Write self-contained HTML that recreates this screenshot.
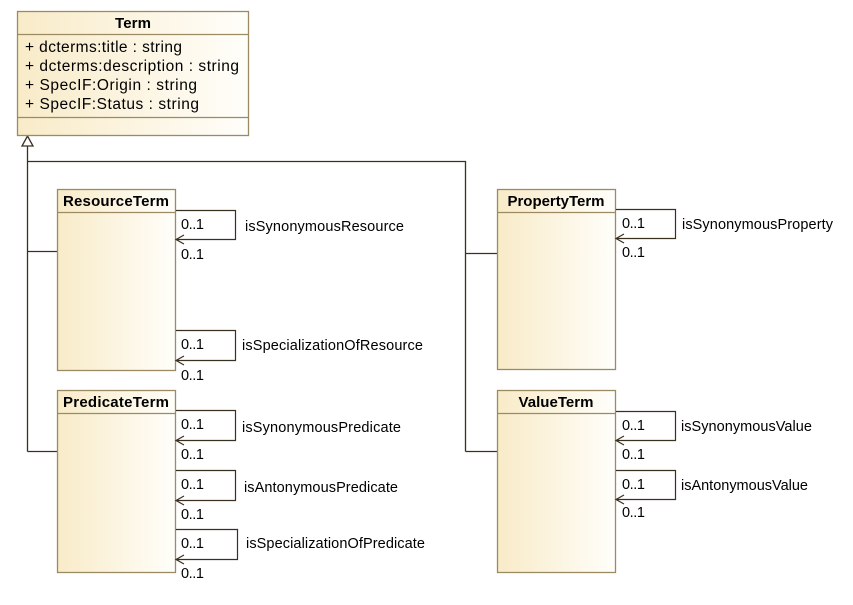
<!DOCTYPE html>
<html><head><meta charset="utf-8"><style>
html,body{margin:0;padding:0;background:#fff;}
svg text{font-family:"Liberation Sans",Arial,sans-serif;fill:#000;}
</style></head><body>
<svg width="853" height="600" viewBox="0 0 853 600" xmlns="http://www.w3.org/2000/svg">
<defs>
<linearGradient id="g" x1="0" y1="0" x2="1" y2="0">
<stop offset="0" stop-color="#f8ebc8"/><stop offset="1" stop-color="#fffefa"/>
</linearGradient>
</defs>
<g stroke="#3a3020" stroke-width="1.3" fill="none">
<path d="M27.5 146V451.5M27.5 161.5H465.5V451.5M27.5 251.5H57M27.5 451.5H57M465.5 253.5H497M465.5 451.5H497"/>
<path d="M27.5 136L22 146H33Z" fill="#fff"/>
</g>
<g stroke="#9c8a62" stroke-width="1.3" fill="url(#g)">
<rect x="17.5" y="11.5" width="231" height="124"/>
<rect x="57.5" y="189.5" width="118" height="181"/>
<rect x="57.5" y="390.5" width="118" height="182"/>
<rect x="497.5" y="189.5" width="118" height="180"/>
<rect x="497.5" y="390.5" width="118" height="182"/>
<path d="M17.5 34.5H248.5M17.5 117.5H248.5M57.5 212.5H175.5M57.5 413.5H175.5M497.5 212.5H615.5M497.5 413.5H615.5" fill="none"/>
</g>
<g font-size="15" font-weight="bold" text-anchor="middle">
<text x="133" y="28" textLength="36">Term</text>
<text x="116" y="206" textLength="106">ResourceTerm</text>
<text x="116" y="407" textLength="106">PredicateTerm</text>
<text x="556" y="206" textLength="97">PropertyTerm</text>
<text x="556" y="407" textLength="75">ValueTerm</text>
</g>
<g font-size="15.5">
<text x="25" y="52" textLength="157">+ dcterms:title : string</text>
<text x="25" y="71" textLength="214">+ dcterms:description : string</text>
<text x="25" y="90" textLength="172">+ SpecIF:Origin : string</text>
<text x="25" y="109" textLength="174">+ SpecIF:Status : string</text>
</g>
<g stroke="#3a3020" stroke-width="1.2" fill="none">
<path d="M176 210.5H235.5V239.5H176M184 235L176 239.5L184 244"/>
<path d="M176 330.5H235.5V360.5H176M184 356L176 360.5L184 365"/>
<path d="M176 410.5H235.5V440.5H176M184 436L176 440.5L184 445"/>
<path d="M176 470.5H235.5V500.5H176M184 496L176 500.5L184 505"/>
<path d="M176 529.5H237.5V559.5H176M184 555L176 559.5L184 564"/>
<path d="M616 209.5H675.5V238.5H616M624 234L616 238.5L624 243"/>
<path d="M616 411.5H675.5V440.5H616M624 436L616 440.5L624 445"/>
<path d="M616 470.5H675.5V499.5H616M624 495L616 499.5L624 504"/>
</g>
<g font-size="14.5">
<text x="181" y="229" textLength="23">0..1</text><text x="181" y="259" textLength="23">0..1</text>
<text x="245" y="231" textLength="159">isSynonymousResource</text>
<text x="181" y="349" textLength="23">0..1</text><text x="181" y="380" textLength="23">0..1</text>
<text x="242" y="350" textLength="181">isSpecializationOfResource</text>
<text x="181" y="429" textLength="23">0..1</text><text x="181" y="459" textLength="23">0..1</text>
<text x="242" y="432" textLength="159">isSynonymousPredicate</text>
<text x="181" y="489" textLength="23">0..1</text><text x="181" y="519" textLength="23">0..1</text>
<text x="244" y="492" textLength="154">isAntonymousPredicate</text>
<text x="181" y="548" textLength="23">0..1</text><text x="181" y="578" textLength="23">0..1</text>
<text x="246" y="548" textLength="179">isSpecializationOfPredicate</text>
<text x="622" y="228" textLength="23">0..1</text><text x="622" y="257" textLength="23">0..1</text>
<text x="682" y="229" textLength="151">isSynonymousProperty</text>
<text x="622" y="430" textLength="23">0..1</text><text x="622" y="459" textLength="23">0..1</text>
<text x="681" y="431" textLength="131">isSynonymousValue</text>
<text x="622" y="489" textLength="23">0..1</text><text x="622" y="517" textLength="23">0..1</text>
<text x="681" y="490" textLength="127">isAntonymousValue</text>
</g>
</svg>
</body></html>
